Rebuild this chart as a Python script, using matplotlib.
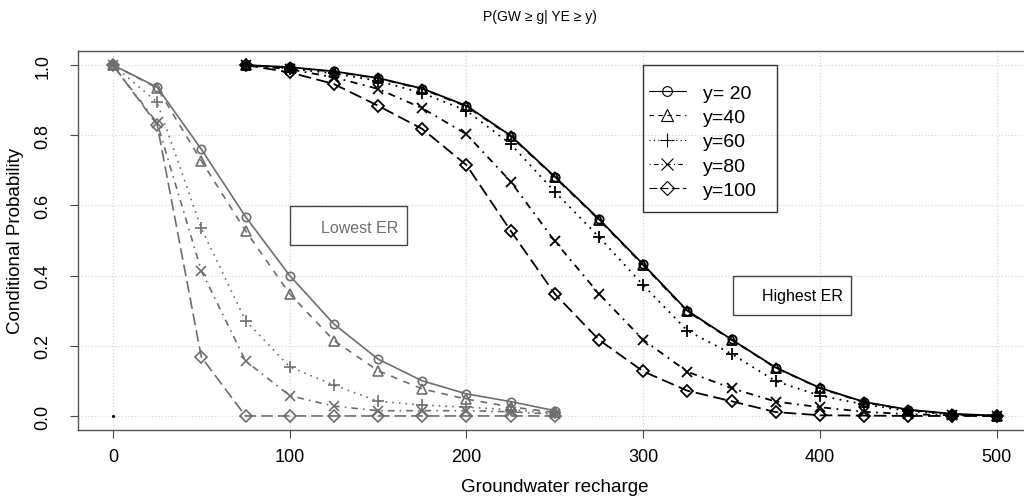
import matplotlib
matplotlib.use("Agg")
import matplotlib.pyplot as plt
from matplotlib.lines import Line2D
from matplotlib.patches import Rectangle

plt.rcParams['font.family'] = ['Liberation Sans', 'DejaVu Sans']

# ---------------- data ----------------
x_low = [0, 25, 50, 75, 100, 125, 150, 175, 200, 225, 250]
low_y20 = [1.0, 0.937, 0.76, 0.568, 0.40, 0.262, 0.162, 0.10, 0.063, 0.041, 0.015]
low_y40 = [1.0, 0.935, 0.727, 0.528, 0.348, 0.215, 0.129, 0.077, 0.048, 0.026, 0.010]
low_y60 = [1.0, 0.894, 0.535, 0.272, 0.140, 0.088, 0.042, 0.031, 0.025, 0.018, 0.008]
low_y80 = [1.0, 0.835, 0.414, 0.157, 0.058, 0.028, 0.015, 0.015, 0.015, 0.012, 0.005]
low_y100 = [1.0, 0.830, 0.168, 0.0, 0.0, 0.0, 0.0, 0.0, 0.0, 0.0, 0.0]

x_high = [75, 100, 125, 150, 175, 200, 225, 250, 275, 300, 325, 350, 375, 400, 425, 450, 475, 500]
high_y20 = [1.0, 0.994, 0.982, 0.963, 0.933, 0.884, 0.799, 0.682, 0.561, 0.432, 0.300, 0.218, 0.138, 0.080, 0.040, 0.018, 0.006, 0.001]
high_y40 = [1.0, 0.993, 0.981, 0.962, 0.932, 0.882, 0.797, 0.680, 0.559, 0.430, 0.298, 0.217, 0.137, 0.079, 0.039, 0.017, 0.005, 0.001]
high_y60 = [1.0, 0.990, 0.976, 0.955, 0.920, 0.870, 0.775, 0.639, 0.510, 0.373, 0.243, 0.177, 0.099, 0.058, 0.033, 0.014, 0.004, 0.0]
high_y80 = [1.0, 0.988, 0.965, 0.932, 0.877, 0.803, 0.668, 0.498, 0.348, 0.217, 0.126, 0.079, 0.041, 0.025, 0.012, 0.005, 0.002, 0.0]
high_y100 = [1.0, 0.979, 0.946, 0.884, 0.818, 0.715, 0.528, 0.348, 0.217, 0.127, 0.072, 0.042, 0.011, 0.002, 0.001, 0.0, 0.0, 0.0]

labels = ['y= 20', 'y=40', 'y=60', 'y=80', 'y=100']
x_ticks = [0, 100, 200, 300, 400, 500]
y_ticks = [0.0, 0.2, 0.4, 0.6, 0.8, 1.0]
y_ticklabels = ['0.0', '0.2', '0.4', '0.6', '0.8', '1.0']

# ---------------- styles ----------------
styles = [
    dict(marker='o', ls='-', ms=6),
    dict(marker='^', ls=(0, (4, 4)), ms=7),
    dict(marker='+', ls=(0, (1, 3)), ms=9),
    dict(marker='x', ls=(0, (1, 3, 4, 3)), ms=7),
    dict(marker='D', ls=(0, (7, 3)), ms=6.5),
]
gray = '#6e6e6e'

fig = plt.figure(figsize=(10.24, 5.02), dpi=100)
ax = fig.add_axes([77.6 / 1024, (502 - 431) / 502, (1032 - 77.6) / 1024, (431 - 52) / 502])

low_sets = [low_y20, low_y40, low_y60, low_y80, low_y100]
high_sets = [high_y20, high_y40, high_y60, high_y80, high_y100]

for ys, st in zip(low_sets, styles):
    ax.plot(x_low, ys, color=gray, lw=1.2, linestyle=st['ls'], marker=st['marker'],
            ms=st['ms'], mfc='none', mec=gray, mew=1.2)
for ys, st in zip(high_sets, styles):
    ax.plot(x_high, ys, color='black', lw=1.3, linestyle=st['ls'], marker=st['marker'],
            ms=st['ms'], mfc='none', mec='black', mew=1.3)

ax.plot([0], [0], marker='o', ms=1.2, color='black', ls='none')

ax.set_xlim(-20, 520)
ax.set_ylim(-0.04, 1.04)
ax.set_xticks(x_ticks)
ax.set_yticks(y_ticks)
ax.set_yticklabels(y_ticklabels, rotation=90, va='center')
ax.tick_params(axis='x', length=6, width=0.8, color='#444444', pad=7, labelsize=13)
ax.tick_params(axis='y', length=6, width=0.8, color='#444444', pad=13, labelsize=13)
ax.grid(True, color='#d3d3d3', ls=(0, (1, 2)), lw=0.8)
ax.set_axisbelow(True)
for s in ['left', 'bottom', 'top']:
    ax.spines[s].set_color('#555555')
    ax.spines[s].set_linewidth(1.0)
ax.spines['right'].set_visible(False)

# annotation boxes
ax.add_patch(Rectangle((100.1, 0.4886), 66.2, 0.1104, fill=False, ec='#444444', lw=1.0))
ax.text(161.2, 0.538, 'Lowest ER', ha='right', va='center', fontsize=11.5, color=gray)
ax.add_patch(Rectangle((350.7, 0.2886), 66.7, 0.1094, fill=False, ec='#444444', lw=1.0))
ax.text(412.9, 0.343, 'Highest ER', ha='right', va='center', fontsize=11.5, color='black')

# legend (frame drawn separately for exact padding)
handles = [Line2D([], [], color='black', lw=0.8, linestyle=st['ls'], marker=st['marker'],
                  ms=st['ms'] + 1, mfc='none', mec='black', mew=0.8) for st in styles]
leg = ax.legend(handles, labels, loc='upper left', bbox_to_anchor=(0.5987, 0.913),
                fontsize=14, frameon=False,
                handlelength=1.9, handletextpad=0.9, labelspacing=0.35, borderpad=0.0,
                borderaxespad=0.0)
ax.add_patch(Rectangle((0.5924, 0.5752), 0.1404, 0.3879, transform=ax.transAxes,
                       fill=False, ec='#333333', lw=1.0, zorder=4))

fig.text(540 / 1024, 1 - 17 / 502, 'P(GW ≥ g| YE ≥ y)', ha='center', va='center', fontsize=10)
fig.text(555 / 1024, 1 - 488 / 502, 'Groundwater recharge', ha='center', va='center', fontsize=13.5)
fig.text(16 / 1024, 1 - 241 / 502, 'Conditional Probability', ha='center', va='center',
         rotation=90, fontsize=13.5)

fig.savefig('out.png', dpi=100)
